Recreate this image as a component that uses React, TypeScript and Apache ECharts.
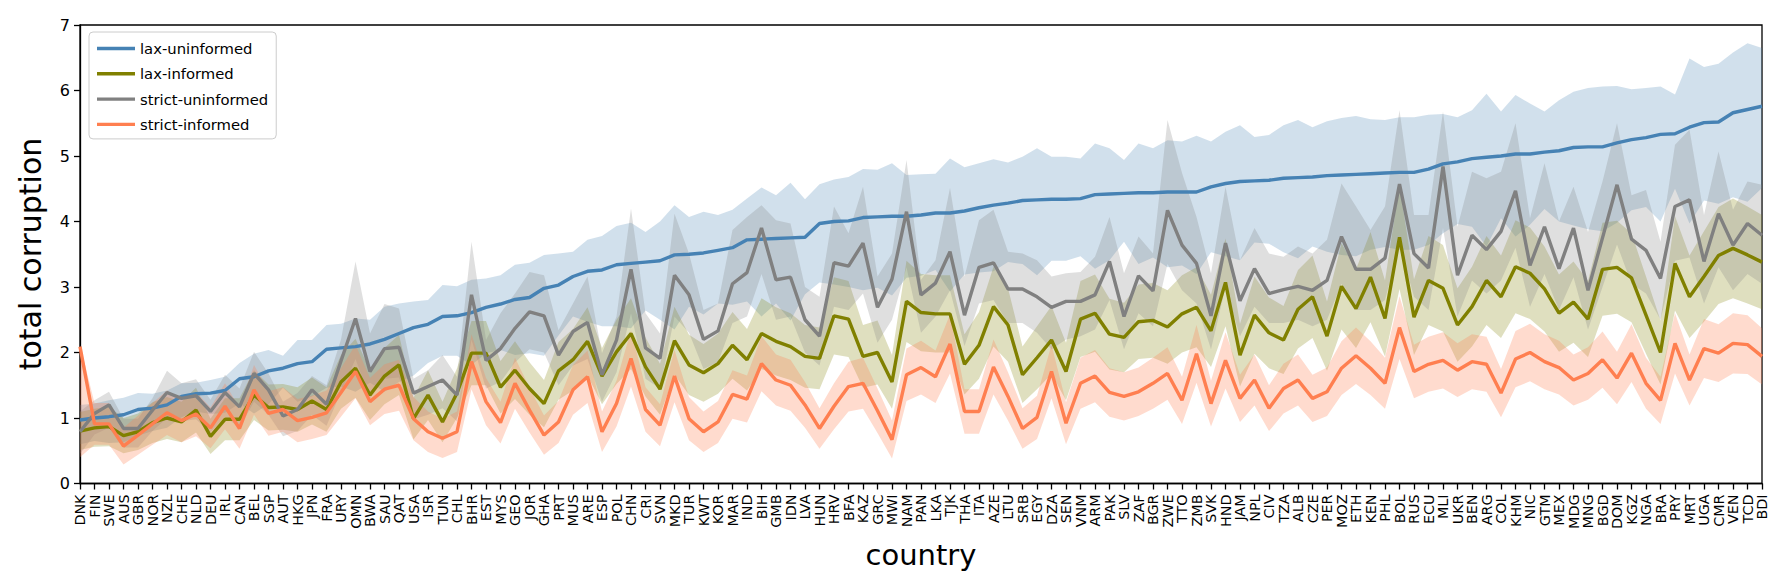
import React, { useEffect, useRef } from "react";
import * as echarts from "echarts";

const countries = [
  "DNK","FIN","SWE","AUS","GBR","NOR","NZL","CHE","NLD","DEU","IRL","CAN","BEL","SGP","AUT","HKG","JPN","FRA","URY","OMN",
  "BWA","SAU","QAT","USA","ISR","TUN","CHL","BHR","EST","MYS","GEO","JOR","GHA","PRT","MUS","ARE","ESP","POL","CHN",
  "CRI","SVN","MKD","TUR","KWT","KOR","MAR","IND","BIH","GMB","IDN","LVA","HUN","HRV","BFA","KAZ","GRC","MWI","NAM",
  "PAN","LKA","TJK","THA","ITA","AZE","LTU","SRB","EGY","DZA","SEN","VNM","ARM","PAK","SLV","ZAF","BGR","ZWE","TTO","ZMB",
  "SVK","HND","JAM","NPL","CIV","TZA","ALB","CZE","PER","MOZ","ETH","KEN","PHL","BOL","RUS","ECU","MLI","UKR","BEN",
  "ARG","COL","KHM","NIC","GTM","MEX","MDG","MNG","BGD","DOM","KGZ","NGA","BRA","PRY","MRT","UGA","CMR","VEN","TCD","BDI",
];

const yTicks = [0, 1, 2, 3, 4, 5, 6, 7];

// lax-uninformed
const laxUninformed = [
  0.97,1.00,1.02,1.05,1.13,1.15,1.20,1.33,1.37,1.38,1.42,1.60,1.63,1.72,1.76,1.83,1.86,2.05,2.07,2.09,
  2.13,2.20,2.29,2.38,2.43,2.55,2.56,2.61,2.69,2.74,2.81,2.84,2.98,3.03,3.16,3.24,3.26,3.34,3.36,3.38,
  3.40,3.49,3.50,3.52,3.56,3.60,3.72,3.73,3.74,3.75,3.76,3.97,4.00,4.01,4.06,4.07,4.08,4.08,4.10,
  4.13,4.13,4.16,4.21,4.25,4.28,4.32,4.33,4.34,4.34,4.35,4.41,4.42,4.43,4.44,4.44,4.45,4.45,4.45,4.53,
  4.58,4.61,4.62,4.63,4.66,4.67,4.68,4.70,4.71,4.72,4.73,4.74,4.75,4.75,4.80,4.88,4.91,4.96,4.98,
  5.00,5.03,5.03,5.06,5.08,5.13,5.14,5.14,5.20,5.25,5.28,5.33,5.34,5.44,5.51,5.52,5.66,5.71,5.76,
];
const laxUninformedLow = [
  0.60,0.65,0.62,0.63,0.73,0.80,0.85,1.01,1.10,1.06,1.08,1.22,1.07,1.21,1.46,1.25,1.33,1.46,1.48,1.40,
  1.54,1.40,1.55,1.65,1.84,1.95,1.95,1.81,1.99,2.04,1.96,1.99,1.95,2.26,2.55,2.47,2.40,2.40,2.37,2.64,
  2.50,2.35,2.70,2.58,2.75,2.73,2.78,2.55,2.75,2.49,2.89,3.07,3.04,3.00,2.95,2.99,2.87,3.14,3.17,
  3.26,2.93,3.19,3.22,3.24,3.38,3.35,3.18,3.40,3.40,3.47,3.28,3.41,3.69,3.35,3.45,3.30,3.33,3.20,3.53,
  3.47,3.41,3.68,3.66,3.53,3.44,3.62,3.54,3.49,3.47,3.57,3.61,3.57,3.57,3.64,3.82,3.96,3.92,3.62,
  4.05,3.77,3.95,4.19,4.00,3.94,3.88,3.85,3.98,4.17,4.22,4.00,4.50,3.97,4.32,4.27,4.37,4.30,4.51,
];
const laxUninformedHigh = [
  1.20,1.22,1.27,1.31,1.38,1.37,1.42,1.53,1.54,1.58,1.63,1.84,1.98,2.04,1.95,2.19,2.19,2.42,2.44,2.52,
  2.50,2.70,2.75,2.78,2.80,3.03,3.01,3.11,3.13,3.18,3.34,3.37,3.49,3.51,3.54,3.72,3.78,3.93,3.98,3.84,
  4.00,4.25,4.07,4.15,4.10,4.18,4.35,4.52,4.40,4.59,4.34,4.57,4.64,4.68,4.80,4.79,4.89,4.71,4.72,
  4.73,4.96,4.83,4.89,4.95,4.90,4.99,5.12,4.99,4.99,4.96,5.19,5.12,4.94,5.19,5.12,5.24,5.22,5.31,5.22,
  5.37,5.47,5.29,5.32,5.47,5.55,5.44,5.53,5.58,5.61,5.56,5.55,5.59,5.59,5.63,5.64,5.59,5.70,5.95,
  5.68,5.93,5.80,5.68,5.85,5.98,6.04,6.06,6.07,6.02,6.04,6.06,5.94,6.49,6.36,6.41,6.58,6.72,6.65,
];

// lax-informed
const laxInformed = [
  0.80,0.85,0.87,0.73,0.79,0.93,1.00,0.94,1.12,0.72,0.98,0.98,1.35,1.16,1.17,1.13,1.26,1.13,1.55,1.76,
  1.35,1.64,1.81,0.99,1.35,0.94,1.38,1.99,1.99,1.47,1.73,1.45,1.22,1.72,1.89,2.17,1.64,2.01,2.29,1.78,
  1.44,2.18,1.81,1.69,1.83,2.11,1.89,2.29,2.17,2.09,1.94,1.91,2.56,2.51,1.94,2.00,1.55,2.78,2.61,
  2.59,2.59,1.82,2.11,2.70,2.42,1.66,1.92,2.19,1.71,2.51,2.60,2.28,2.23,2.47,2.49,2.39,2.59,2.69,2.33,
  3.07,1.96,2.57,2.30,2.19,2.66,2.85,2.25,3.01,2.67,3.15,2.52,3.76,2.54,3.10,2.98,2.42,2.70,3.10,
  2.85,3.31,3.21,2.97,2.60,2.77,2.51,3.27,3.30,3.14,2.57,2.00,3.36,2.85,3.16,3.48,3.59,3.49,3.38,
];
const laxInformedLow = [
  0.51,0.56,0.57,0.46,0.51,0.62,0.68,0.63,0.78,0.45,0.66,0.66,0.97,0.81,0.82,0.79,0.90,0.79,1.14,1.31,
  0.97,1.21,1.35,0.67,0.97,0.63,1.00,1.50,1.50,1.07,1.29,1.05,0.86,1.28,1.42,1.65,1.21,1.52,1.75,1.33,
  1.05,1.66,1.35,1.25,1.37,1.60,1.42,1.75,1.65,1.58,1.46,1.44,1.97,1.93,1.46,1.51,1.14,2.16,2.02,
  2.00,2.00,1.36,1.60,2.09,1.86,1.23,1.44,1.67,1.27,1.93,2.01,1.74,1.70,1.90,1.92,1.83,2.00,2.08,1.78,
  2.40,1.48,1.98,1.76,1.67,2.06,2.22,1.72,2.35,2.07,2.46,1.94,2.97,1.96,2.42,2.32,1.86,2.09,2.42,
  2.22,2.60,2.51,2.32,2.01,2.15,1.93,2.56,2.59,2.46,1.98,1.51,2.64,2.22,2.47,2.74,2.83,2.75,2.66,
];
const laxInformedHigh = [
  1.09,1.14,1.17,1.00,1.07,1.24,1.32,1.25,1.46,0.99,1.30,1.30,1.73,1.51,1.52,1.47,1.62,1.47,1.96,2.21,
  1.73,2.07,2.27,1.31,1.73,1.25,1.76,2.48,2.48,1.87,2.17,1.85,1.58,2.16,2.36,2.69,2.07,2.50,2.83,2.23,
  1.83,2.70,2.27,2.13,2.29,2.62,2.36,2.83,2.69,2.60,2.42,2.38,3.15,3.09,2.42,2.49,1.96,3.40,3.20,
  3.18,3.18,2.28,2.62,3.31,2.98,2.09,2.40,2.71,2.15,3.09,3.19,2.82,2.76,3.04,3.06,2.95,3.18,3.30,2.88,
  3.74,2.44,3.16,2.84,2.71,3.26,3.48,2.78,3.67,3.27,3.84,3.10,4.55,3.12,3.78,3.64,2.98,3.31,3.78,
  3.48,4.02,3.91,3.62,3.19,3.39,3.09,3.98,4.01,3.82,3.16,2.49,4.08,3.48,3.85,4.22,4.35,4.23,4.10,
];

// strict-uninformed
const strictUninformed = [
  0.79,1.07,1.20,0.84,0.84,1.12,1.39,1.30,1.34,1.10,1.39,1.17,1.68,1.43,1.03,1.13,1.43,1.21,1.87,2.52,
  1.71,2.06,2.08,1.38,1.48,1.58,1.35,2.88,1.88,2.06,2.37,2.62,2.56,1.96,2.32,2.46,1.66,2.19,3.27,2.07,
  1.91,3.18,2.88,2.20,2.33,3.05,3.22,3.90,3.11,3.15,2.50,2.25,3.37,3.32,3.67,2.69,3.12,4.15,2.88,
  3.06,3.54,2.57,3.30,3.37,2.97,2.97,2.85,2.69,2.78,2.78,2.88,3.39,2.55,3.17,2.94,4.17,3.64,3.36,2.56,
  3.67,2.79,3.28,2.90,2.96,3.01,2.95,3.10,3.77,3.27,3.27,3.44,4.57,3.51,3.29,4.84,3.18,3.79,3.57,
  3.85,4.47,3.33,3.92,3.28,3.90,2.95,3.75,4.56,3.73,3.56,3.13,4.23,4.33,3.39,4.12,3.64,3.97,3.79,
];
const strictUninformedLow = [
  0.45,0.75,0.85,0.55,0.55,0.80,1.00,0.95,0.98,0.78,1.02,0.85,1.25,1.05,0.72,0.80,1.05,0.88,1.40,1.90,
  1.30,1.60,1.62,0.98,1.05,1.15,0.95,2.20,1.45,1.55,1.85,2.05,2.00,1.50,1.80,1.90,1.25,1.70,2.60,1.60,
  1.45,2.55,2.30,1.75,1.85,2.45,2.55,3.20,2.50,2.55,2.00,1.80,2.70,2.65,2.90,2.15,2.50,3.30,2.30,
  2.55,2.95,2.10,2.75,2.80,2.45,2.45,2.30,2.05,2.20,2.25,2.35,2.80,2.05,2.60,2.40,3.35,2.95,2.75,2.05,
  3.00,2.25,2.70,2.45,2.45,2.50,2.40,2.50,3.05,2.65,2.65,2.80,3.65,2.85,2.65,3.90,2.55,3.10,2.90,
  3.10,3.60,2.70,3.20,2.65,3.15,2.35,3.00,3.65,3.05,2.90,2.50,3.40,3.45,2.75,3.30,2.95,3.20,3.05,
];
const strictUninformedHigh = [
  1.10,1.27,1.40,0.99,0.99,1.30,1.72,1.53,1.59,1.28,1.66,1.45,2.01,1.68,1.25,1.38,1.64,1.50,2.20,3.39,
  2.29,2.74,2.67,1.60,1.73,1.96,1.63,3.69,2.19,2.60,2.90,3.23,3.18,2.34,2.75,3.16,1.99,2.55,4.20,2.60,
  2.29,4.12,3.51,2.65,2.75,3.87,4.07,4.25,4.02,3.97,3.00,2.85,4.23,3.82,4.53,3.16,3.51,4.94,3.11,
  3.41,4.51,3.16,4.02,4.18,3.54,3.51,3.41,3.16,3.21,3.23,3.46,4.07,3.21,3.77,3.51,5.55,4.74,4.07,3.21,
  4.53,3.41,3.90,3.51,3.46,3.62,3.51,3.72,4.58,4.23,3.87,4.23,5.70,4.10,4.10,5.68,3.92,4.76,4.66,
  4.76,5.50,4.05,4.89,4.00,4.53,3.84,4.61,5.50,4.40,4.48,3.69,5.17,5.40,4.10,5.07,4.18,4.61,4.56,
];

// strict-informed
const strictInformed = [
  2.09,0.91,0.91,0.57,0.74,0.91,1.08,0.96,1.06,0.85,1.18,0.84,1.43,1.07,1.13,0.96,1.01,1.08,1.39,1.71,
  1.25,1.44,1.50,0.99,0.79,0.69,0.79,1.86,1.25,0.93,1.53,1.12,0.74,0.94,1.43,1.63,0.79,1.22,1.91,1.13,
  0.89,1.64,0.99,0.79,0.94,1.36,1.29,1.83,1.58,1.50,1.20,0.84,1.18,1.48,1.53,1.11,0.67,1.66,1.77,
  1.63,2.13,1.10,1.10,1.78,1.33,0.84,1.01,1.71,0.92,1.53,1.64,1.39,1.33,1.40,1.53,1.68,1.27,1.98,1.22,
  1.88,1.30,1.58,1.15,1.45,1.58,1.30,1.40,1.76,1.95,1.76,1.53,2.38,1.71,1.82,1.88,1.73,1.86,1.82,
  1.38,1.90,2.00,1.86,1.77,1.58,1.68,1.89,1.61,1.99,1.53,1.27,2.14,1.58,2.06,1.99,2.14,2.12,1.94,
];
const strictInformedLow = [
  0.40,0.59,0.59,0.29,0.44,0.59,0.74,0.63,0.72,0.54,0.83,0.53,1.05,0.73,0.79,0.63,0.68,0.74,1.02,1.30,
  0.89,1.06,1.11,0.66,0.48,0.39,0.48,1.44,0.89,0.61,1.14,0.78,0.44,0.62,1.05,1.23,0.48,0.87,1.48,0.79,
  0.57,1.24,0.66,0.48,0.62,0.99,0.93,1.41,1.19,1.11,0.85,0.53,0.83,1.10,1.14,0.77,0.38,1.26,1.36,
  1.23,1.68,0.76,0.76,1.36,0.96,0.53,0.68,1.30,0.60,1.14,1.24,1.02,0.96,1.03,1.14,1.28,0.91,1.54,0.87,
  1.45,0.94,1.19,0.80,1.07,1.19,0.94,1.03,1.35,1.52,1.35,1.14,1.90,1.30,1.40,1.45,1.32,1.44,1.40,
  1.01,1.47,1.56,1.44,1.36,1.19,1.28,1.46,1.21,1.55,1.14,0.91,1.68,1.19,1.61,1.55,1.68,1.67,1.51,
];
const strictInformedHigh = [
  2.12,1.23,1.23,0.85,1.04,1.23,1.42,1.29,1.40,1.16,1.53,1.15,1.81,1.41,1.47,1.29,1.34,1.42,1.76,2.12,
  1.61,1.82,1.89,1.32,1.10,0.99,1.10,2.28,1.61,1.25,1.92,1.46,1.04,1.26,1.81,2.03,1.10,1.57,2.34,1.47,
  1.21,2.04,1.32,1.10,1.26,1.73,1.65,2.25,1.97,1.89,1.55,1.15,1.53,1.86,1.92,1.45,0.96,2.06,2.18,
  2.03,2.58,1.44,1.44,2.20,1.70,1.15,1.34,2.12,1.24,1.92,2.04,1.76,1.70,1.77,1.92,2.08,1.63,2.42,1.57,
  2.31,1.66,1.97,1.50,1.83,1.97,1.66,1.77,2.17,2.38,2.17,1.92,2.86,2.12,2.24,2.31,2.14,2.28,2.24,
  1.75,2.33,2.44,2.28,2.18,1.97,2.08,2.32,2.01,2.43,1.92,1.63,2.60,1.97,2.51,2.43,2.60,2.57,2.37,
];

const FONT = '"DejaVu Sans", "Liberation Sans", sans-serif';

type Model = {
  name: string;
  color: string;
  fill: string;
  mean: number[];
  low: number[];
  high: number[];
};

const models: Model[] = [
  { name: "lax-uninformed", color: "#4682b4", fill: "rgba(70,130,180,0.25)", mean: laxUninformed, low: laxUninformedLow, high: laxUninformedHigh },
  { name: "lax-informed", color: "#808000", fill: "rgba(128,128,0,0.25)", mean: laxInformed, low: laxInformedLow, high: laxInformedHigh },
  { name: "strict-uninformed", color: "#808080", fill: "rgba(128,128,128,0.25)", mean: strictUninformed, low: strictUninformedLow, high: strictUninformedHigh },
  { name: "strict-informed", color: "#ff7f50", fill: "rgba(255,127,80,0.28)", mean: strictInformed, low: strictInformedLow, high: strictInformedHigh },
];

// Each shaded band is a transparent base line (low) with the range (high - low) stacked on it.
function bandSeries(m: Model) {
  const stack = "band-" + m.name;
  return [
    {
      name: stack + "-base",
      type: "line",
      stack,
      data: m.low,
      symbol: "none",
      silent: true,
      lineStyle: { opacity: 0, width: 0 },
      z: 1,
    },
    {
      name: stack + "-range",
      type: "line",
      stack,
      data: m.high.map((h, i) => +(h - m.low[i]).toFixed(3)),
      symbol: "none",
      silent: true,
      lineStyle: { opacity: 0, width: 0 },
      areaStyle: { color: m.fill, opacity: 1 },
      z: 1,
    },
  ];
}

function lineSeries(m: Model) {
  return {
    name: m.name,
    type: "line",
    data: m.mean,
    symbol: "none",
    lineStyle: { color: m.color, width: 3.4 },
    itemStyle: { color: m.color },
    z: 5,
  };
}

export default function App() {
  const ref = useRef<HTMLDivElement>(null);

  useEffect(() => {
    if (!ref.current) return;
    const chart = echarts.init(ref.current, undefined, { renderer: "svg" });
    const bands = models.flatMap(bandSeries);
    const lines = models.map(lineSeries);

    chart.setOption({
      animation: false,
      backgroundColor: "#ffffff",
      textStyle: { fontFamily: FONT, color: "#000" },
      grid: {
        left: 80,
        right: 23,
        top: 25,
        bottom: 101.5,
        show: true,
        borderColor: "#000",
        borderWidth: 1.3,
        backgroundColor: "transparent",
        containLabel: false,
      },
      legend: {
        orient: "vertical",
        left: 89,
        top: 32,
        data: models.map((m) => ({ name: m.name, icon: "rect" })),
        itemWidth: 38,
        itemHeight: 3.4,
        itemGap: 8.3,
        padding: [8, 8, 6, 8],
        backgroundColor: "rgba(255,255,255,0.85)",
        borderColor: "#cccccc",
        borderWidth: 1,
        borderRadius: 4,
        textStyle: { fontFamily: FONT, fontSize: 14.8, color: "#000", lineHeight: 17 },
        selectedMode: false,
      },
      xAxis: {
        type: "category",
        data: countries,
        boundaryGap: false,
        axisLine: { show: true, lineStyle: { color: "#000", width: 1.3 } },
        axisTick: { show: true, interval: 0, length: 6, lineStyle: { color: "#000", width: 1.3 } },
        axisLabel: {
          interval: 0,
          rotate: 90,
          fontSize: 14.3,
          fontFamily: FONT,
          color: "#000",
          margin: 11,
        },
        splitLine: { show: false },
      },
      yAxis: {
        type: "value",
        min: yTicks[0],
        max: yTicks[yTicks.length - 1],
        interval: 1,
        axisLine: { show: true, lineStyle: { color: "#000", width: 1.3 } },
        axisTick: { show: true, length: 6, lineStyle: { color: "#000", width: 1.3 } },
        axisLabel: { fontSize: 16, fontFamily: FONT, color: "#000", margin: 10 },
        splitLine: { show: false },
      },
      graphic: [
        {
          type: "text",
          x: 30,
          y: 254,
          rotation: Math.PI / 2,
          style: {
            text: "total corruption",
            font: `30px ${FONT}`,
            fill: "#000",
            textAlign: "center",
            textVerticalAlign: "middle",
          },
        },
        {
          type: "text",
          x: 921,
          y: 555,
          style: {
            text: "country",
            font: `29px ${FONT}`,
            fill: "#000",
            textAlign: "center",
            textVerticalAlign: "middle",
          },
        },
      ],
      series: [...bands, ...lines],
    });

    return () => chart.dispose();
  }, []);

  return (
    <div
      ref={ref}
      style={{ position: "absolute", left: 0, top: 0, width: 1785, height: 585, background: "#fff" }}
    />
  );
}
